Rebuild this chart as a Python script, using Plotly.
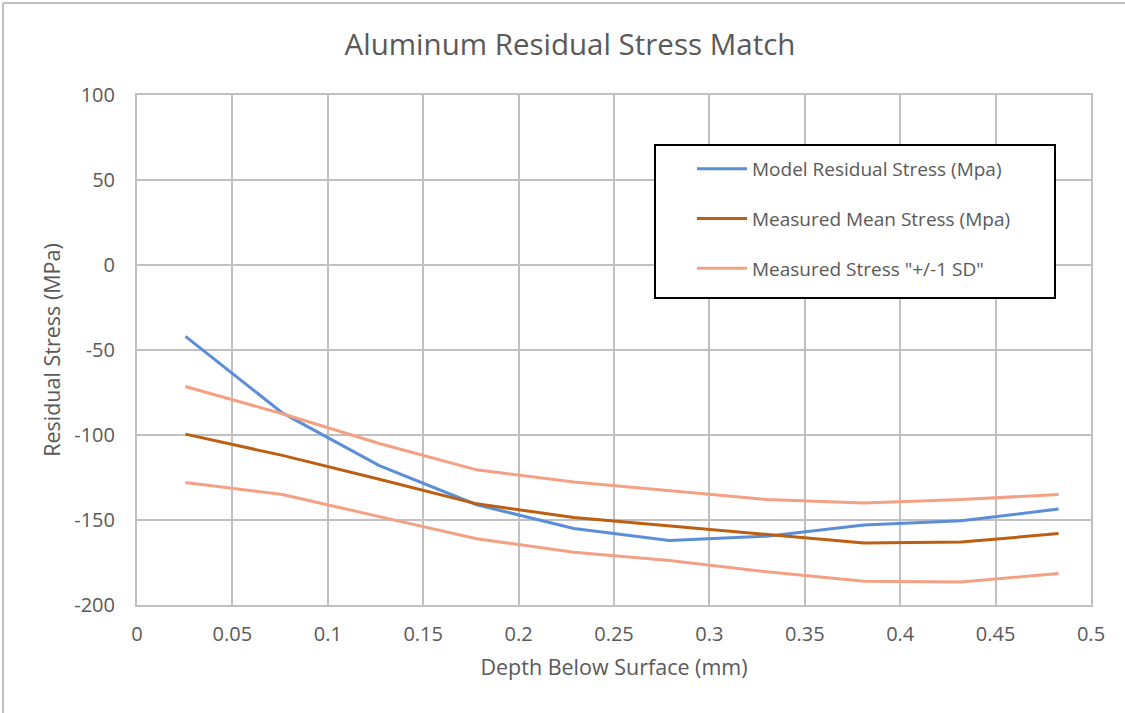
import plotly.graph_objects as go

depth_mm = [0.0254, 0.0762, 0.127, 0.178, 0.229, 0.279, 0.330, 0.381, 0.432, 0.483]
model_stress = [-42, -87, -118, -141, -155, -162, -159.5, -153, -150.5, -143.5]
mean_stress = [-99.5, -112, -126, -140.5, -148.5, -153.5, -158.5, -163.5, -163, -158]
upper_sd = [-71.5, -87.5, -105, -120.5, -127.7, -133, -138, -140, -138, -135]
lower_sd = [-128, -135, -148, -161, -169, -173.8, -180.5, -186, -186.5, -181.5]

y_ticks = [100, 50, 0, -50, -100, -150, -200]
y_tick_labels = ["100", "50", "0", "-50", "-100", "-150", "-200"]
x_ticks = [0, 0.05, 0.1, 0.15, 0.2, 0.25, 0.3, 0.35, 0.4, 0.45, 0.5]
x_tick_labels = ["0", "0.05", "0.1", "0.15", "0.2", "0.25", "0.3", "0.35", "0.4", "0.45", "0.5"]

series_names = ["Model Residual Stress (Mpa)", "Measured Mean Stress (Mpa)", 'Measured Stress "+/-1 SD"']
colors = ["#5B8ED6", "#BC5F12", "#F4A083"]

title_text = "Aluminum Residual Stress Match"
x_title = "Depth Below Surface (mm)"
y_title = "Residual Stress (MPa)"

fig = go.Figure()
fig.add_trace(go.Scatter(x=depth_mm, y=model_stress, mode="lines", name=series_names[0],
                         line=dict(color=colors[0], width=3), legendgroup="a"))
fig.add_trace(go.Scatter(x=depth_mm, y=mean_stress, mode="lines", name=series_names[1],
                         line=dict(color=colors[1], width=3), legendgroup="b"))
fig.add_trace(go.Scatter(x=depth_mm, y=upper_sd, mode="lines", name=series_names[2],
                         line=dict(color=colors[2], width=3), legendgroup="c"))
fig.add_trace(go.Scatter(x=depth_mm, y=lower_sd, mode="lines", name=series_names[2],
                         line=dict(color=colors[2], width=3), showlegend=False, legendgroup="c"))

grid = "#C0C0C0"
txt = "#595959"
fam = "Open Sans, Noto Sans, sans-serif"
tickfont = dict(family=fam, size=20, color=txt)

fig.update_layout(
    width=1125, height=713,
    paper_bgcolor="white", plot_bgcolor="white",
    margin=dict(l=137, r=34, t=95, b=108),
    title=dict(text=title_text, x=570 / 1125, xanchor="center", y=1 - 45 / 713, yanchor="middle",
               font=dict(family=fam, size=29.5, color=txt)),
    xaxis=dict(range=[0, 0.5], tickvals=x_ticks, ticktext=x_tick_labels, showgrid=True, gridcolor=grid, gridwidth=2,
               showline=True, linecolor=grid, linewidth=2, mirror=True, zeroline=False,
               ticks="", tickfont=tickfont, ticklabelstandoff=10,
               title=dict(text=x_title, font=dict(family=fam, size=21.5, color=txt), standoff=14)),
    yaxis=dict(range=[-200, 100], tickvals=y_ticks, ticktext=y_tick_labels, showgrid=True, gridcolor=grid, gridwidth=2,
               showline=True, linecolor=grid, linewidth=2, mirror=True, zeroline=False,
               ticks="", tickfont=tickfont, ticklabelstandoff=16,
               title=dict(text=y_title, font=dict(family=fam, size=21.5, color=txt), standoff=8)),
    legend=dict(x=(692 - 137) / 954, y=(605 - 150) / 510, xanchor="left", yanchor="top",
                bgcolor="rgba(0,0,0,0)", borderwidth=0, tracegroupgap=22, itemwidth=50,
                font=dict(family=fam, size=19, color=txt)),
    shapes=[
        dict(type="rect", xref="paper", yref="paper",
             x0=(655 - 137) / 954, x1=(1055 - 137) / 954,
             y0=(605 - 298) / 510, y1=(605 - 145) / 510,
             line=dict(color="black", width=2), fillcolor="white", layer="above"),
        dict(type="line", xref="paper", yref="paper", x0=(3 - 137) / 954, x1=(1125 - 137) / 954,
             y0=(605 - 3) / 510, y1=(605 - 3) / 510, line=dict(color="#BFBFBF", width=2)),
        dict(type="line", xref="paper", yref="paper", x0=(3 - 137) / 954, x1=(3 - 137) / 954,
             y0=(605 - 3) / 510, y1=(605 - 713) / 510, line=dict(color="#BFBFBF", width=2)),
    ],
)

fig.write_html("out.html", config={"displayModeBar": False},
               post_script="document.body.style.margin='0';document.body.style.overflow='hidden';")
